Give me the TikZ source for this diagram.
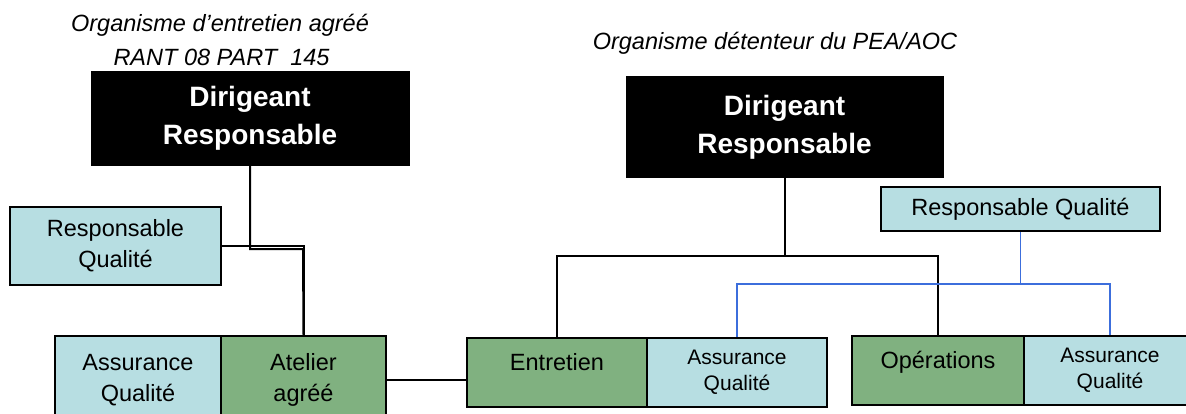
\documentclass[tikz,border=0pt]{standalone}
\usepackage{fontspec}
\setmainfont{Liberation Sans}
\definecolor{lblue}{RGB}{183,222,226}
\definecolor{lgreen}{RGB}{128,177,128}
\definecolor{lineblue}{RGB}{60,110,220}
\begin{document}
\begin{tikzpicture}[x=1pt,y=-1pt,
  box/.style={draw=black,line width=1.8pt,inner sep=0pt,align=center,text=black,
    font=\fontsize{23.5}{31}\selectfont},
  bluebox/.style={box,fill=lblue},
  greenbox/.style={box,fill=lgreen},
  smalltext/.style={font=\fontsize{21}{26}\selectfont},
  boss/.style={draw=black,fill=black,line width=1pt,inner sep=0pt,align=center,text=white,
    font=\fontsize{28}{38}\selectfont\bfseries},
  title/.style={inner sep=0pt,align=center,font=\fontsize{23.5}{32}\selectfont\itshape},
  conn/.style={line width=2pt,draw=black},
  bconn/.style={line width=1.8pt,draw=lineblue}]
\useasboundingbox (0,0) rectangle (1186,413);
\clip (0,0) rectangle (1186,413);
% titles
\node[title] (t1) at (220,25) {Organisme d’entretien agréé};
\node[title] (t2) at (221.5,57) {RANT 08 PART\ \ 145};
\node[title] (t3) at (775,43) {Organisme détenteur du PEA/AOC};
% left side
\node[boss,minimum width=318pt,minimum height=94pt] (dirL) at (250,118) {Dirigeant\\Responsable};
\node[bluebox,minimum width=211pt,minimum height=78pt] (rqL) at (115.5,246) {Responsable\\Qualité};
\node[bluebox,minimum width=166pt,minimum height=88pt] (aqL) at (138,380) {Assurance\\Qualité};
\node[greenbox,minimum width=165pt,minimum height=88pt] (atelier) at (303.5,380) {Atelier\\agréé};
% right side
\node[boss,minimum width=317pt,minimum height=101pt] (dirR) at (784.5,127) {Dirigeant\\Responsable};
\node[bluebox,minimum width=279pt,minimum height=44pt] (rqR) at (1020.5,209) {Responsable Qualité};
\node[greenbox,minimum width=180pt,minimum height=69pt] (entretien) at (557,372.5) {Entretien\\[-10pt]\mbox{}};
\node[bluebox,smalltext,minimum width=180pt,minimum height=69pt] (aq1) at (737,372.5) {Assurance\\Qualité};
\node[greenbox,minimum width=172pt,minimum height=69pt] (ops) at (938,370.5) {Opérations\\[-10pt]\mbox{}};
\node[bluebox,smalltext,minimum width=172pt,minimum height=69pt] (aq2) at (1110,370.5) {Assurance\\Qualité};
% connectors left
\coordinate (j1) at (303,249);
\draw[conn] (dirL.south) |- (j1) -- (atelier.north);
\draw[conn] (rqL.east) -| (atelier.north);
\draw[conn] (atelier.east) -- (atelier.east -| entretien.west);
% connectors right
\coordinate (bus) at (784.5,256);
\coordinate (bus2) at (1020.5,284);
\draw[conn] (dirR.south) -- (bus);
\draw[conn] (entretien.north) |- (bus) -| (ops.north);
\draw[bconn] (rqR.south) -- (bus2);
\draw[bconn] (aq1.north) |- (bus2) -| (aq2.north);
\end{tikzpicture}
\end{document}
